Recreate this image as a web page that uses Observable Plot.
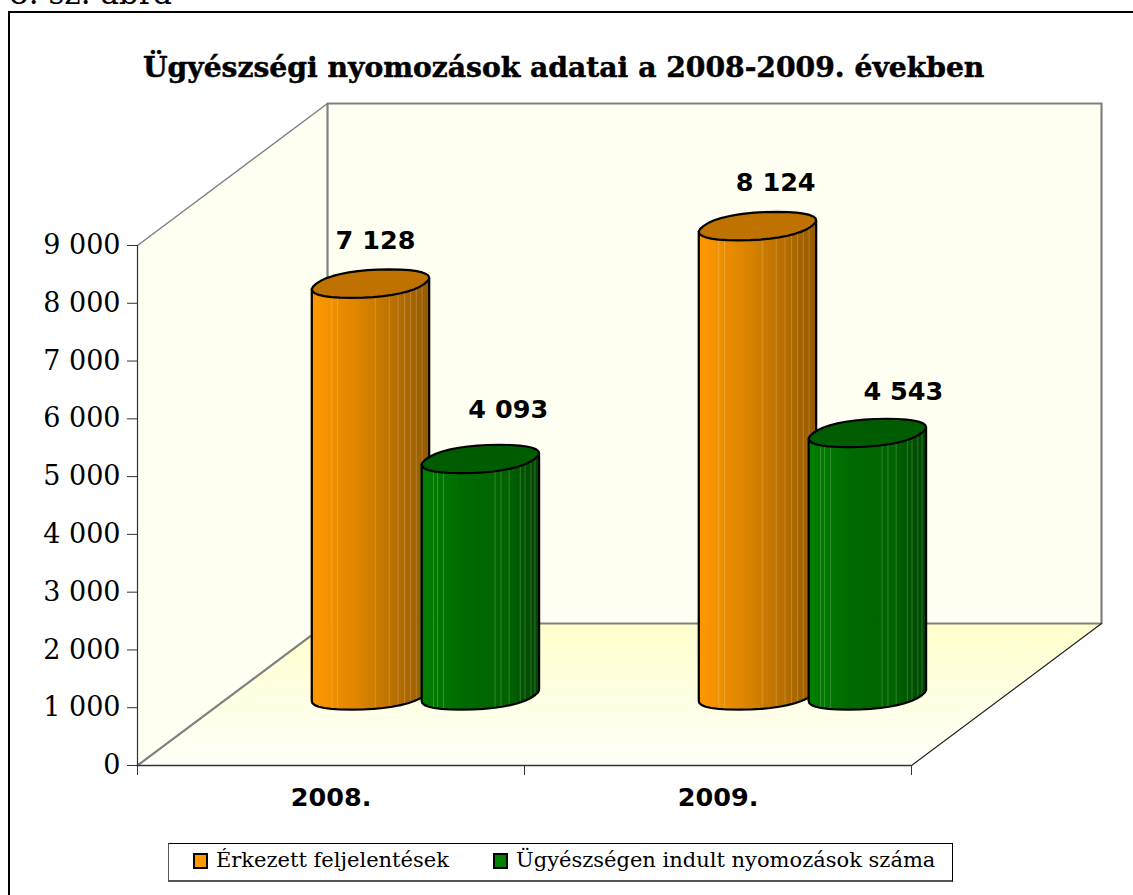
<!DOCTYPE html>
<html><head><meta charset="utf-8">
<script src="https://cdn.jsdelivr.net/npm/d3@7"></script>
<script src="https://cdn.jsdelivr.net/npm/@observablehq/plot@0.6"></script>
<style>
html,body{margin:0;padding:0;background:#fff;width:1133px;height:895px;overflow:hidden}
#page{position:relative;width:1133px;height:895px;overflow:hidden}
#page svg{position:absolute;left:0;top:0;overflow:visible}
.abs{position:absolute;white-space:nowrap;color:#000}
#caption{left:9px;top:-25px;font:31px "DejaVu Serif",serif}
#title{left:143px;top:51px;font:bold 28.2px "DejaVu Serif",serif;-webkit-text-stroke:0.5px #000}
#frame{left:8px;top:11px;width:1125px;height:884px;border-left:2px solid #000;border-top:2px solid #000;box-sizing:border-box}
#legend{left:168px;top:843px;width:785px;height:39px;border:1px solid #000;border-left-color:#555;border-bottom:2px solid #555;box-sizing:border-box;font:21px "DejaVu Serif",serif}
.sw{position:absolute;top:9px;width:11px;height:12px;border:2px solid #000}
.lb{position:absolute;top:4px}
</style></head>
<body><div id="page">
<div id="frame" class="abs"></div>
<div id="caption" class="abs">8. sz. ábra</div>
<div id="title" class="abs">Ügyészségi nyomozások adatai a 2008-2009. években</div>
<div id="legend" class="abs">
 <span class="sw" style="left:24px;background:#FF9900"></span><span class="lb" style="left:47px">Érkezett feljelentések</span>
 <span class="sw" style="left:324px;background:#008000"></span><span class="lb" style="left:347px">Ügyészségen indult nyomozások száma</span>
</div>
</div>
<script>
const years = ["2008.", "2009."];
const seriesNames = ["Érkezett feljelentések", "Ügyészségen indult nyomozások száma"];
const reports = [7128, 8124];
const investigations = [4093, 4543];
const yTicks = [0,1000,2000,3000,4000,5000,6000,7000,8000,9000];

// colours of the shading, left to right
const orangeRamp = ["#FF9900","#E08600","#B87000","#955A00"];
const greenRamp = ["#008000","#006A00","#006400","#004600"];
const orangeTop = "#BF7200", greenTop = "#005C00";

// 3-D projection, in data units: x = category position, y = value
const depthX = 0.491, depthY = 2458;     // full floor depth
const radiusX = 0.140, radiusDepth = 0.100;   // cylinder radius
const seriesOffset = [0.36, 0.644];       // cylinder position within a category
const seriesDepth = 0.493;                // cylinder position in depth
// facet seams as fractions of half the width of a cylinder
const seamsA = [-.66,-.56,.08,.32,.47,.58,.68,.78,.88];
const seamsB = [-.8,-.73,-.63,.25,.35,.49,.68,.76,.86,.93];
// label nudges in category units and value units, per cylinder
const labelShift = [[0.013,0.072],[0.047,0.093]];
const labelLift = [[745,850],[745,710]];

const cx = (c,s) => c + seriesOffset[s] + seriesDepth*depthX;
const baseV = seriesDepth*depthY;
const expo = 0.88;
const spow = a => Math.sign(a)*Math.pow(Math.abs(a),expo);
// rim of a cylinder, relative to its centre (a rounded many-sided ring as in the source)
const rim = d3.range(0,37).map(i=>{
  const t=i/36*2*Math.PI, c=spow(Math.cos(t)), s=spow(Math.sin(t));
  return {x:radiusX*c+radiusDepth*depthX*s, y:radiusDepth*depthY*s};
});
const Rw = d3.max(rim,d=>d.x);
// lower edge of the rim, left to right
const iL = d3.minIndex(rim,d=>d.x), iR = d3.maxIndex(rim.slice(0,36),d=>d.x);
const lower = [];
for(let i=iL;;i=(i+1)%36){ lower.push(rim[i]); if(i===iR) break; }
const frontOf = u => {
  const x=u*Rw;
  for(let i=0;i<lower.length-1;i++){
    const a=lower[i],b=lower[i+1];
    if(x>=a.x&&x<=b.x){ return a.y+(b.y-a.y)*(x-a.x)/((b.x-a.x)||1); }
  }
  return u<0?lower[0].y:lower[lower.length-1].y;
};
const mix = (ramp,u) => d3.scaleLinear().domain([-1,-.25,.45,1]).range(ramp).interpolate(d3.interpolateRgb)(u);

const marks = [];
marks.push(() => {
  const s = d3.create("svg:defs");
  const p = s.append("pattern").attr("id","dither").attr("width",4).attr("height",4).attr("patternUnits","userSpaceOnUse");
  p.append("rect").attr("width",4).attr("height",4).attr("fill","#FFFFF6");
  p.append("rect").attr("x",0).attr("y",0).attr("width",1).attr("height",1).attr("fill","#FFFFD8");
  p.append("rect").attr("x",2).attr("y",2).attr("width",1).attr("height",1).attr("fill","#FFFFD8");
  const g = s.append("linearGradient").attr("id","floor").attr("x1",0).attr("y1",0).attr("x2",0).attr("y2",1);
  g.append("stop").attr("offset","0").attr("stop-color","#FFFFCC");
  g.append("stop").attr("offset","1").attr("stop-color","#FFFFFA");
  return s.node();
});

const backTop=9000+depthY, backBot=depthY;
marks.push(Plot.line([{x:0,y:0},{x:0,y:9000},{x:depthX,y:backTop},{x:depthX,y:backBot},{x:0,y:0}],{x:"x",y:"y",fill:"url(#dither)",stroke:"none"}));
marks.push(Plot.line([{x:depthX,y:backBot},{x:depthX,y:backTop},{x:2+depthX,y:backTop},{x:2+depthX,y:backBot},{x:depthX,y:backBot}],{x:"x",y:"y",fill:"url(#dither)",stroke:"none"}));
marks.push(Plot.line([{x:0,y:0},{x:2,y:0},{x:2+depthX,y:backBot},{x:depthX,y:backBot},{x:0,y:0}],{x:"x",y:"y",fill:"url(#floor)",stroke:"none"}));
marks.push(Plot.line([{x:0,y:0},{x:depthX,y:backBot},{x:2+depthX,y:backBot},{x:2+depthX,y:backTop},{x:depthX,y:backTop},{x:depthX,y:backBot}],{x:"x",y:"y",stroke:"#808080",strokeWidth:2.2}));
marks.push(Plot.line([{x:0,y:9000},{x:depthX,y:backTop}],{x:"x",y:"y",stroke:"#808080",strokeWidth:1.5}));
marks.push(Plot.line([{x:2,y:0},{x:2+depthX,y:backBot}],{x:"x",y:"y",stroke:"#222",strokeWidth:1.2}));

marks.push(Plot.ruleX([0],{y1:0,y2:9000,stroke:"#333",strokeWidth:1.2}));
marks.push(Plot.ruleY([0],{x1:0,x2:2,stroke:"#333",strokeWidth:1.5}));
marks.push(Plot.axisY({ticks:yTicks,tickSize:10,tickPadding:7,
  tickFormat:d=>d3.format(",")(d).replace(/,/g," "),
  fontSize:27,fontFamily:"DejaVu Serif",label:null,color:"#000",stroke:"#333"}));
marks.push(Plot.axisX({ticks:[0,1,2],tickSize:10,tickFormat:()=>"",label:null,stroke:"#333"}));
marks.push(Plot.text(years,{x:(d,i)=>i+0.5,y:-560,text:d=>d,fontSize:25.5,fontWeight:"bold",fontFamily:"DejaVu Sans",fill:"#000"}));

const values=[reports,investigations];
years.forEach((yr,c)=>{
  [0,1].forEach(s=>{
    const v=values[s][c], xc=cx(c,s), seams=s===0?seamsA:seamsB, ramp=s===0?orangeRamp:greenRamp;
    const strips=d3.range(40).map(i=>{
      const a=-1+i/20,b=-1+(i+1)/20;
      const seg=[a,b].map(u=>({x:xc+Rw*u,y1:baseV+frontOf(u),y2:baseV+v+frontOf(u)}));
      return {seg,col:mix(ramp,(a+b)/2)};
    });
    strips.forEach(f=>marks.push(Plot.areaY(f.seg,{x:"x",y1:"y1",y2:"y2",fill:f.col,stroke:f.col,strokeWidth:1.2})));
    seams.forEach(u=>{
      marks.push(Plot.ruleX([xc+Rw*u],{y1:baseV+frontOf(u),y2:baseV+v+frontOf(u),stroke:"#fff",strokeOpacity:0.2,strokeWidth:1}));
    });
    const full=[{x:xc-Rw,y:baseV+v+frontOf(-1)},...lower.map(p=>({x:xc+p.x,y:baseV+p.y})),{x:xc+Rw,y:baseV+v+frontOf(1)}];
    marks.push(Plot.line(full,{x:"x",y:"y",stroke:"#000",strokeWidth:2.2}));
    marks.push(Plot.line(rim.map(p=>({x:xc+p.x,y:baseV+v+p.y})),{x:"x",y:"y",fill:s===0?orangeTop:greenTop,stroke:"#000",strokeWidth:2.2}));
    marks.push(Plot.text([v],{x:()=>xc+labelShift[c][s],y:()=>baseV+v+labelLift[c][s],
      text:d=>d3.format(",")(d).replace(/,/g," "),fontSize:25.5,fontWeight:"bold",fontFamily:"DejaVu Sans",fill:"#000"}));
  });
});

const chart=Plot.plot({
  width:1133,height:895,
  marginLeft:137,marginRight:222,marginTop:245,marginBottom:130,
  x:{domain:[0,2]},y:{domain:[0,9000]},
  style:{background:"transparent",overflow:"visible"},
  marks
});
document.getElementById("page").insertBefore(chart,document.getElementById("caption"));
</script>
</body></html>
